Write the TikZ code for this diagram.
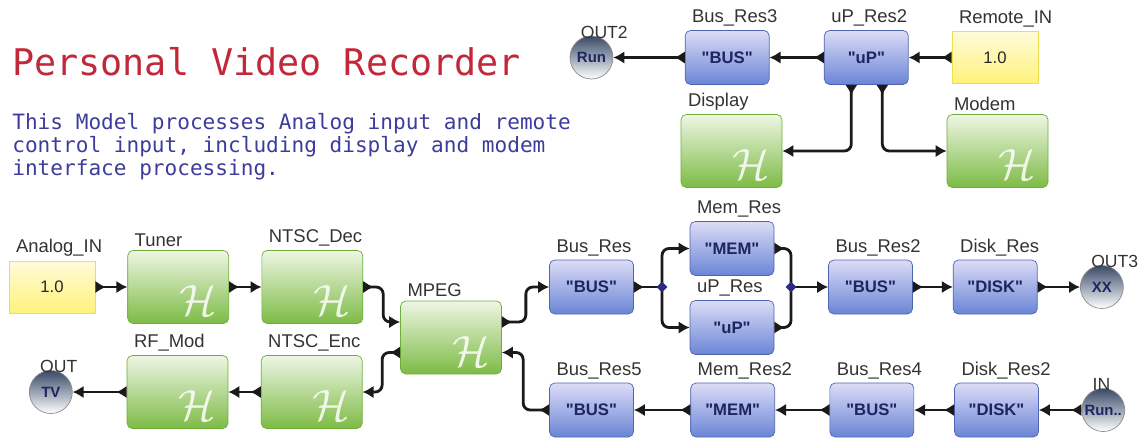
\documentclass[tikz,border=0pt]{standalone}
\usepackage{fontspec}
\setmainfont{Liberation Sans}
\newfontfamily\monofont{DejaVu Sans Mono}
\usetikzlibrary{positioning, shapes.geometric, arrows.meta}
\definecolor{titleRed}{HTML}{C2283A}
\definecolor{noteBlue}{HTML}{3C3C9C}
\definecolor{hierGreen}{HTML}{7DBB45}
\definecolor{hierGreenTop}{HTML}{EEF6E4}
\definecolor{hierGreenLine}{HTML}{6FAE3A}
\definecolor{resBlue}{HTML}{6A85D6}
\definecolor{resBlueTop}{HTML}{DCDCF6}
\definecolor{resBlueLine}{HTML}{4F64B0}
\definecolor{resText}{HTML}{1E2560}
\definecolor{srcYellow}{HTML}{FFF27A}
\definecolor{srcYellowTop}{HTML}{FFFBDA}
\definecolor{srcYellowLine}{HTML}{EDE04A}
\definecolor{termDark}{HTML}{3A4A66}
\definecolor{termMid}{HTML}{9AA4B4}
\definecolor{wireBlack}{HTML}{1A1A1A}
\definecolor{joinNavy}{HTML}{2A2A80}
\tikzset{
  portout/.tip={Latex[reversed, length=0.21cm, width=0.25cm]},
  portin/.tip={Latex[length=0.22cm, width=0.25cm]}
}
\newcommand{\resname}[1]{\textquotedbl#1\textquotedbl}

\begin{document}
\begin{tikzpicture}[x=0.02cm, y=-0.02cm, font=\fontsize{10.5}{12}\selectfont,
  tag/.style={anchor=south west, inner sep=0pt, label distance=0pt,
    xshift=0.14cm, yshift=0.07cm, text=black!80},
  tagged/.style={label={[tag]north west:#1}},
  termtag/.style={label={[tag, xshift=-0.05cm, font=\fontsize{10}{12}\selectfont]north west:#1}},
  hmark/.style={anchor=center, inner sep=0pt, label distance=0pt, text=white,
    opacity=.85, font=\Huge, xshift=-0.62cm, yshift=0.46cm},
  hier/.style={draw=hierGreenLine, top color=hierGreenTop, bottom color=hierGreen,
    rounded corners=3pt, minimum width=2.02cm, minimum height=1.46cm,
    label={[hmark]south east:$\mathcal{H}$}},
  res/.style={draw=resBlueLine, top color=resBlueTop, bottom color=resBlue,
    rounded corners=3pt, minimum width=1.68cm, minimum height=1.08cm,
    text=resText, font=\fontsize{9.5}{11}\selectfont\bfseries},
  src/.style={draw=srcYellowLine, top color=srcYellowTop, bottom color=srcYellow,
    minimum width=1.72cm, minimum height=1.04cm, text=black!85,
    font=\fontsize{9.5}{11}\selectfont},
  term/.style={circle, draw=black!45, top color=termDark, bottom color=white,
    middle color=termMid, minimum size=0.86cm, inner sep=0pt, text=resText,
    font=\fontsize{8.5}{9}\selectfont\bfseries},
  junction/.style={diamond, fill=joinNavy, inner sep=0pt, minimum size=0.22cm},
  wire/.style={line width=1.6pt, draw=wireBlack, rounded corners=4pt},
  link/.style={wire, portout-portin},
  linkout/.style={wire, portout-},
  linkin/.style={wire, -portin}
]
\useasboundingbox (0,0) rectangle (1138,437);

% title and note
\node[anchor=west, inner sep=0pt, text=titleRed,
  font=\monofont\fontsize{20.9}{24}\selectfont] (title) at (12,62)
  {Personal Video Recorder};
\node[anchor=north west, inner sep=0pt, align=left, text=noteBlue,
  font=\monofont\fontsize{12}{13.1}\selectfont] (note) at (12,113)
  {This Model processes Analog input and remote\\
   control input, including display and modem\\
   interface processing.};

% remote control part
\node[src, tagged=Remote\_IN] (remin) at (995,57.5) {1.0};
\node[res, tagged=uP\_Res2, left=0.86cm of remin] (up2) {\resname{uP}};
\node[res, tagged=Bus\_Res3, left=1.09cm of up2] (br3) {\resname{BUS}};
\node[term, termtag=OUT2, left=1.43cm of br3] (out2) {Run};
\node[hier, tagged=Display] (display) at (731.5,151) {};
\node[hier, tagged=Modem] (modem) at (997.5,151) {};

\draw[link] (remin) -- (up2);
\draw[link] (up2) -- (br3);
\draw[link] (br3) -- (out2);
\draw[link] ([xshift=-0.3cm]up2.south) |- (display);
\draw[link] ([xshift=0.32cm]up2.south) |- (modem);

% analog video part
\node[src, tagged=Analog\_IN] (analog) at (52,287) {1.0};
\node[hier, tagged=Tuner, right=0.64cm of analog] (tuner) {};
\node[hier, tagged=NTSC\_Dec, right=0.65cm of tuner] (ntscdec) {};
\node[hier, tagged=MPEG] (mpeg) at (451,337.5) {};
\node[hier, tagged=RF\_Mod] (rfmod) at (177.5,392) {};
\node[hier, tagged=NTSC\_Enc, right=0.65cm of rfmod] (ntscenc) {};
\node[term, termtag=OUT, left=1.08cm of rfmod] (out) {TV};

\draw[link] (analog) -- (tuner);
\draw[link] (tuner) -- (ntscdec);
\draw[link] (ntscdec.east) -- ++(20,0) |- ([yshift=0.31cm]mpeg.west);
\draw[link] ([yshift=-0.3cm]mpeg.west) -- ++(-18,0) |- (ntscenc.east);
\draw[link] (ntscenc) -- (rfmod);
\draw[link] (rfmod) -- (out);

% record path
\node[res, tagged=Bus\_Res] (busres) at (591.5,287) {\resname{BUS}};
\node[res, tagged=Mem\_Res] (memres) at (732,248.5) {\resname{MEM}};
\node[res, tagged=uP\_Res] (upres) at (732,327.5) {\resname{uP}};
\node[res, tagged=Bus\_Res2] (busres2) at (870.5,287) {\resname{BUS}};
\node[res, tagged=Disk\_Res, right=0.8cm of busres2] (diskres) {\resname{DISK}};
\node[term, termtag=OUT3, right=0.85cm of diskres] (out3) {XX};
\coordinate (jl) at (662,287);
\coordinate (jr) at (791,287);

\draw[link] ([yshift=0.31cm]mpeg.east) -- ++(24,0) |- (busres.west);
\draw[linkout] (busres) -- (jl);
\draw[linkin] (jl) |- (memres);
\draw[linkin] (jl) |- (upres);
\draw[linkout] (memres) -| (jr);
\draw[linkout] (upres) -| (jr);
\draw[linkin] (jr) -- (busres2);
\draw[link] (busres2) -- (diskres);
\draw[link] (diskres) -- (out3);
\node[junction] (jlmark) at (jl) {};
\node[junction] (jrmark) at (jr) {};

% playback path
\node[res, tagged=Bus\_Res5] (busres5) at (591.5,410) {\resname{BUS}};
\node[res, tagged=Mem\_Res2, right=1.13cm of busres5] (memres2) {\resname{MEM}};
\node[res, tagged=Bus\_Res4, right=1.09cm of memres2] (busres4) {\resname{BUS}};
\node[res, tagged=Disk\_Res2, right=0.8cm of busres4] (diskres2) {\resname{DISK}};
\node[term, termtag=IN, right=0.85cm of diskres2] (in) {Run..};

\draw[link] (in) -- (diskres2);
\draw[link] (diskres2) -- (busres4);
\draw[link] (busres4) -- (memres2);
\draw[link] (memres2) -- (busres5);
\draw[link] (busres5.west) -- ++(-26,0) |- ([yshift=-0.3cm]mpeg.east);

\end{tikzpicture}
\end{document}
